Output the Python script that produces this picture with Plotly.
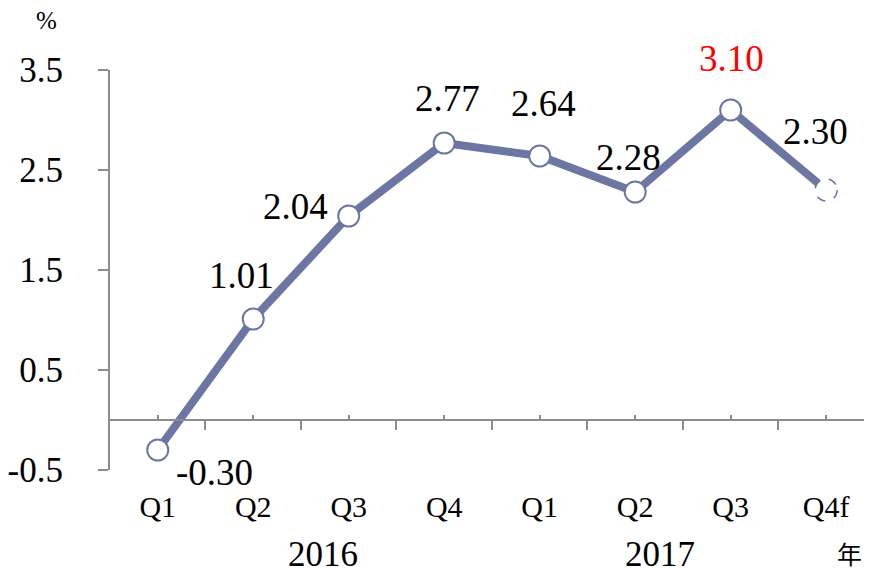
import plotly.graph_objects as go

quarters = ["Q1", "Q2", "Q3", "Q4", "Q1", "Q2", "Q3", "Q4f"]
values = [-0.30, 1.01, 2.04, 2.77, 2.64, 2.28, 3.10, 2.30]
value_labels = ["-0.30", "1.01", "2.04", "2.77", "2.64", "2.28", "3.10", "2.30"]
label_colors = ["black"] * 6 + ["#ff0000", "black"]
years = ["2016", "2017"]
y_ticks = [-0.5, 0.5, 1.5, 2.5, 3.5]

# style: label offsets (pixels)
label_shift = [(57, -22), (-12, 44), (-53, 10), (3, 45), (4, 53), (-7, 35), (1, 52), (-11, 59)]
year_x = [1.73, 5.26]

LINE = "#6b76a2"
GRAY = "#8c8c8c"
FONT = "Times New Roman, Liberation Serif, serif"

idx = list(range(len(quarters)))
xr = [-0.5, 7.48]

fig = go.Figure()
fig.add_trace(go.Scatter(
    x=idx, y=values, mode="lines",
    line=dict(color=LINE, width=8),
    showlegend=False, hoverinfo="skip",
))
fig.add_trace(go.Scatter(
    x=idx[:-1], y=values[:-1], mode="markers",
    marker=dict(size=21, color="#ffffff", opacity=1,
                line=dict(color=LINE, width=2)),
    showlegend=False, hoverinfo="skip",
))
for ax in ["x2", "x3"]:
    fig.add_trace(go.Scatter(x=idx, y=values, xaxis=ax, mode="none",
                             showlegend=False, hoverinfo="skip"))

# dashed forecast marker
fig.add_shape(type="circle", xref="x", yref="y", xsizemode="pixel", ysizemode="pixel",
              xanchor=idx[-1], yanchor=values[-1], x0=-11, x1=11, y0=-11, y1=11,
              line=dict(color=LINE, width=1.5, dash="dash"), fillcolor="white", layer="above")

for i, (v, t, c) in enumerate(zip(values, value_labels, label_colors)):
    fig.add_annotation(x=idx[i], y=v, text=t, showarrow=False,
                       xshift=label_shift[i][0], yshift=label_shift[i][1],
                       font=dict(family=FONT, size=37, color=c),
                       xanchor="center", yanchor="middle")

for yr, xp in zip(years, year_x):
    fig.add_annotation(x=xp, y=-0.21, xref="x", yref="paper", text=yr, showarrow=False,
                       font=dict(family=FONT, size=35, color="black"),
                       xanchor="center", yanchor="middle")
fig.add_annotation(x=0.97, y=-0.208, xref="paper", yref="paper", text="年", showarrow=False,
                   font=dict(family="Noto Sans CJK JP", size=25, color="black"),
                   xanchor="center", yanchor="middle")
fig.add_annotation(x=-0.083, y=1.1225, xref="paper", yref="paper", text="%", showarrow=False,
                   font=dict(family=FONT, size=25, color="black"),
                   xanchor="center", yanchor="middle")

fig.update_layout(
    width=864, height=563,
    margin=dict(l=102, r=0, t=62, b=101),
    paper_bgcolor="white", plot_bgcolor="white",
    xaxis=dict(range=xr, tickmode="array", tickvals=idx, ticktext=quarters,
               showline=False, showgrid=False, zeroline=False, ticks="",
               tickfont=dict(family=FONT, size=30, color="black"),
               ticklabelstandoff=16),
    xaxis2=dict(range=xr, overlaying="x", anchor="free", position=0.125,
                showline=True, linecolor=GRAY, linewidth=2, showgrid=False, zeroline=False,
                tickmode="array", tickvals=[i + 0.5 for i in idx[:-1]],
                ticks="outside", ticklen=9, tickwidth=1.5, tickcolor=GRAY,
                showticklabels=False),
    xaxis3=dict(range=xr, overlaying="x", anchor="free", position=0.125,
                showline=False, showgrid=False, zeroline=False,
                tickmode="array", tickvals=idx,
                ticks="inside", ticklen=5, tickwidth=1.5, tickcolor=GRAY,
                showticklabels=False),
    yaxis=dict(range=[-0.5, 3.5], tickmode="array", tickvals=y_ticks,
               ticktext=[f"{v:.1f}" for v in y_ticks],
               showline=True, linecolor=GRAY, linewidth=2, showgrid=False, zeroline=False,
               ticks="outside", ticklen=10, tickwidth=2, tickcolor=GRAY,
               tickfont=dict(family=FONT, size=35, color="black"),
               ticklabelstandoff=28),
)

fig.write_html("out.html")
